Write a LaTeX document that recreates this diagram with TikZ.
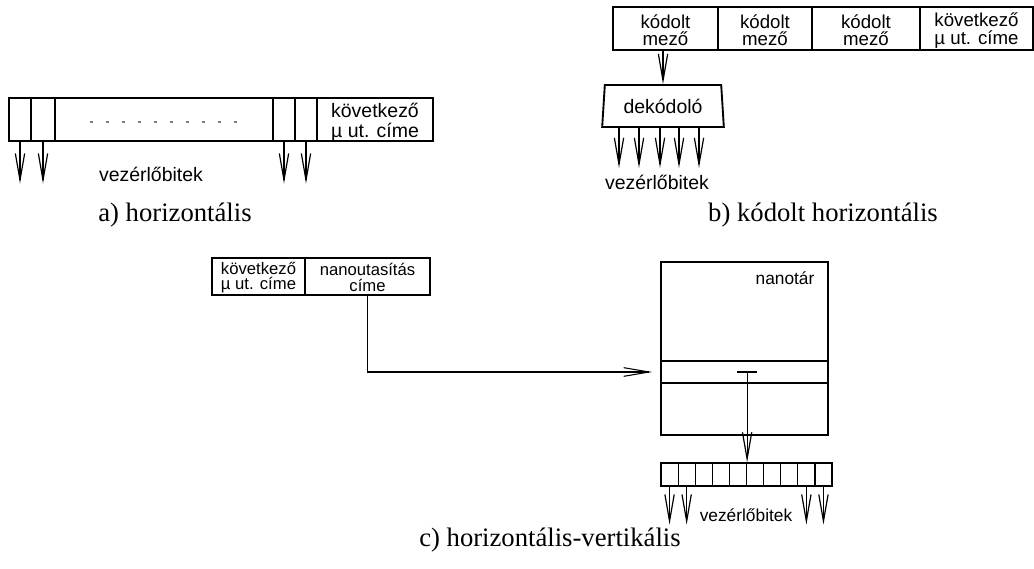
\documentclass[tikz,border=0pt]{standalone}
\usepackage{fontspec}
\setmainfont{Liberation Serif}
\setsansfont{Liberation Sans}
\usetikzlibrary{arrows.meta,fit,shapes.geometric,calc}
\begin{document}
\begin{tikzpicture}[x=0.75pt,y=-0.75pt,
  field/.style={draw,line width=0.9pt,inner sep=0pt},
  frame/.style={draw,line width=1.6pt,inner sep=0pt},
  txta/.style={inner sep=0pt,align=center,font=\sffamily\fontsize{14.6}{14.5}\selectfont},
  txtb/.style={inner sep=0pt,align=center,font=\sffamily\fontsize{14}{13}\selectfont},
  txtc/.style={inner sep=0pt,align=center,font=\sffamily\fontsize{12.5}{11.8}\selectfont},
  bit/.style={line width=0.9pt,-{Straight Barb[length=20pt,width=7pt]}},
  lbl/.style={inner sep=0pt,font=\sffamily\fontsize{14.6}{14}\selectfont},
  lblc/.style={inner sep=0pt,font=\sffamily\fontsize{13}{13}\selectfont},
  captext/.style={inner sep=0pt,font=\fontsize{20}{24}\selectfont}]
\useasboundingbox (0,0) rectangle (1034,568);

% ---------- a) horizontal microinstruction ----------
\node[field,fit={(9,98) (31,141)}] (a1) {};
\node[field,fit={(31,98) (55,141)}] (a2) {};
\node[inner sep=0pt,fit={(55,98) (273,141)}] (amid) {};
\node[field,fit={(273,98) (295,141)}] (a3) {};
\node[field,fit={(295,98) (317,141)}] (a4) {};
\node[field,fit={(317,98) (433,141)}] (anext) {};
\node[txta] (anextt) at ($(anext.center)+(0,3)$) {következő\\µ ut. címe};
\node[frame,fit={(9,98) (433,141)}] (aword) {};
\draw[line width=0.8pt,gray,dash pattern=on 2.5pt off 9.5pt] (90,122) -- (240,122);
\foreach \c in {a1,a2,a3,a4}
  \draw[bit] (\c.south) -- ++(0,42);
\node[lbl] (abits) at (151,174) {vezérlőbitek};
\node[captext] (acap) at (175,215) {a) horizontális};

% ---------- b) encoded horizontal microinstruction ----------
\node[field,fit={(613,7) (718,50)}] (b1) {};
\node[field,fit={(718,7) (812,50)}] (b2) {};
\node[field,fit={(812,7) (920,50)}] (b3) {};
\node[field,fit={(920,7) (1033,50)}] (b4) {};
\foreach \c in {b1,b2,b3}
  \node[txtb] (\c t) at ($(\c.center)+(0,2)$) {kódolt\\mező};
\node[txtb] (b4t) at ($(b4.center)+(0,2)$) {következő\\µ ut. címe};
\node[frame,fit={(613,7) (1033,50)}] (bword) {};
\node[draw,line width=1.4pt,trapezium,trapezium stretches=true,
  trapezium left angle=83,trapezium right angle=83,
  minimum width=91.5pt,minimum height=31.5pt,inner sep=0pt,
  font=\sffamily\fontsize{14.6}{14}\selectfont] (dec) at (663,106) {dekódoló};
\draw[bit] (b1.south -| dec.north) -- (dec.north);
\foreach \dx in {-44,-24,-3,16,36}
  \draw[bit] ($(dec.south)+(\dx,0)$) -- ++(0,40);
\node[lbl] (bbits) at (657,182) {vezérlőbitek};
\node[captext] (bcap) at (823,215) {b) kódolt horizontális};

% ---------- c) horizontal-vertical microinstruction ----------
\node[field,fit={(212,258) (305,295)}] (c1) {};
\node[field,fit={(305,258) (430,295)}] (c2) {};
\node[txtc] (c1t) at ($(c1.center)+(0,1)$) {következő\\µ ut. címe};
\node[txtc] (c2t) at ($(c2.center)+(0,1)$) {nanoutasítás\\címe};
\node[frame,fit={(212,258) (430,295)}] (cword) {};

\node[frame,fit={(661,262) (828,435)}] (nt) {};
\node[draw,line width=1.2pt,inner sep=0pt,fit={(661,361) (828,383)}] (row) {};
\node[lblc] (ntl) at (785,278) {nanotár};

\foreach \i in {1,...,10} {
  \pgfmathsetmacro\xl{661+(\i-1)*17.1}
  \pgfmathsetmacro\xr{661+\i*17.1}
  \node[draw,line width=0.9pt,inner sep=0pt,fit={(\xl,463) (\xr,486)}] (r\i) {};
}
\node[draw,line width=1.2pt,inner sep=0pt,fit={(661,463) (832,486)}] (reg) {};

\draw[line width=0.8pt,-{Straight Barb[length=19pt,width=6.5pt]}]
  (c2.south) |- ($(row.west)+(-8,0)$);
\coordinate (tp) at (r5.north east |- row.center);
\draw[line width=0.9pt] ($(tp)+(-10,0)$) -- ($(tp)+(10,0)$);
\draw[bit] (tp) -- (r5.north east);
\foreach \c in {r1,r2,r9,r10}
  \draw[bit] (\c.south) -- ++(0,38);
\node[lblc] (cbits) at (746,515) {vezérlőbitek};
\node[captext] (ccap) at (550,540) {c) horizontális-vertikális};
\end{tikzpicture}
\end{document}
